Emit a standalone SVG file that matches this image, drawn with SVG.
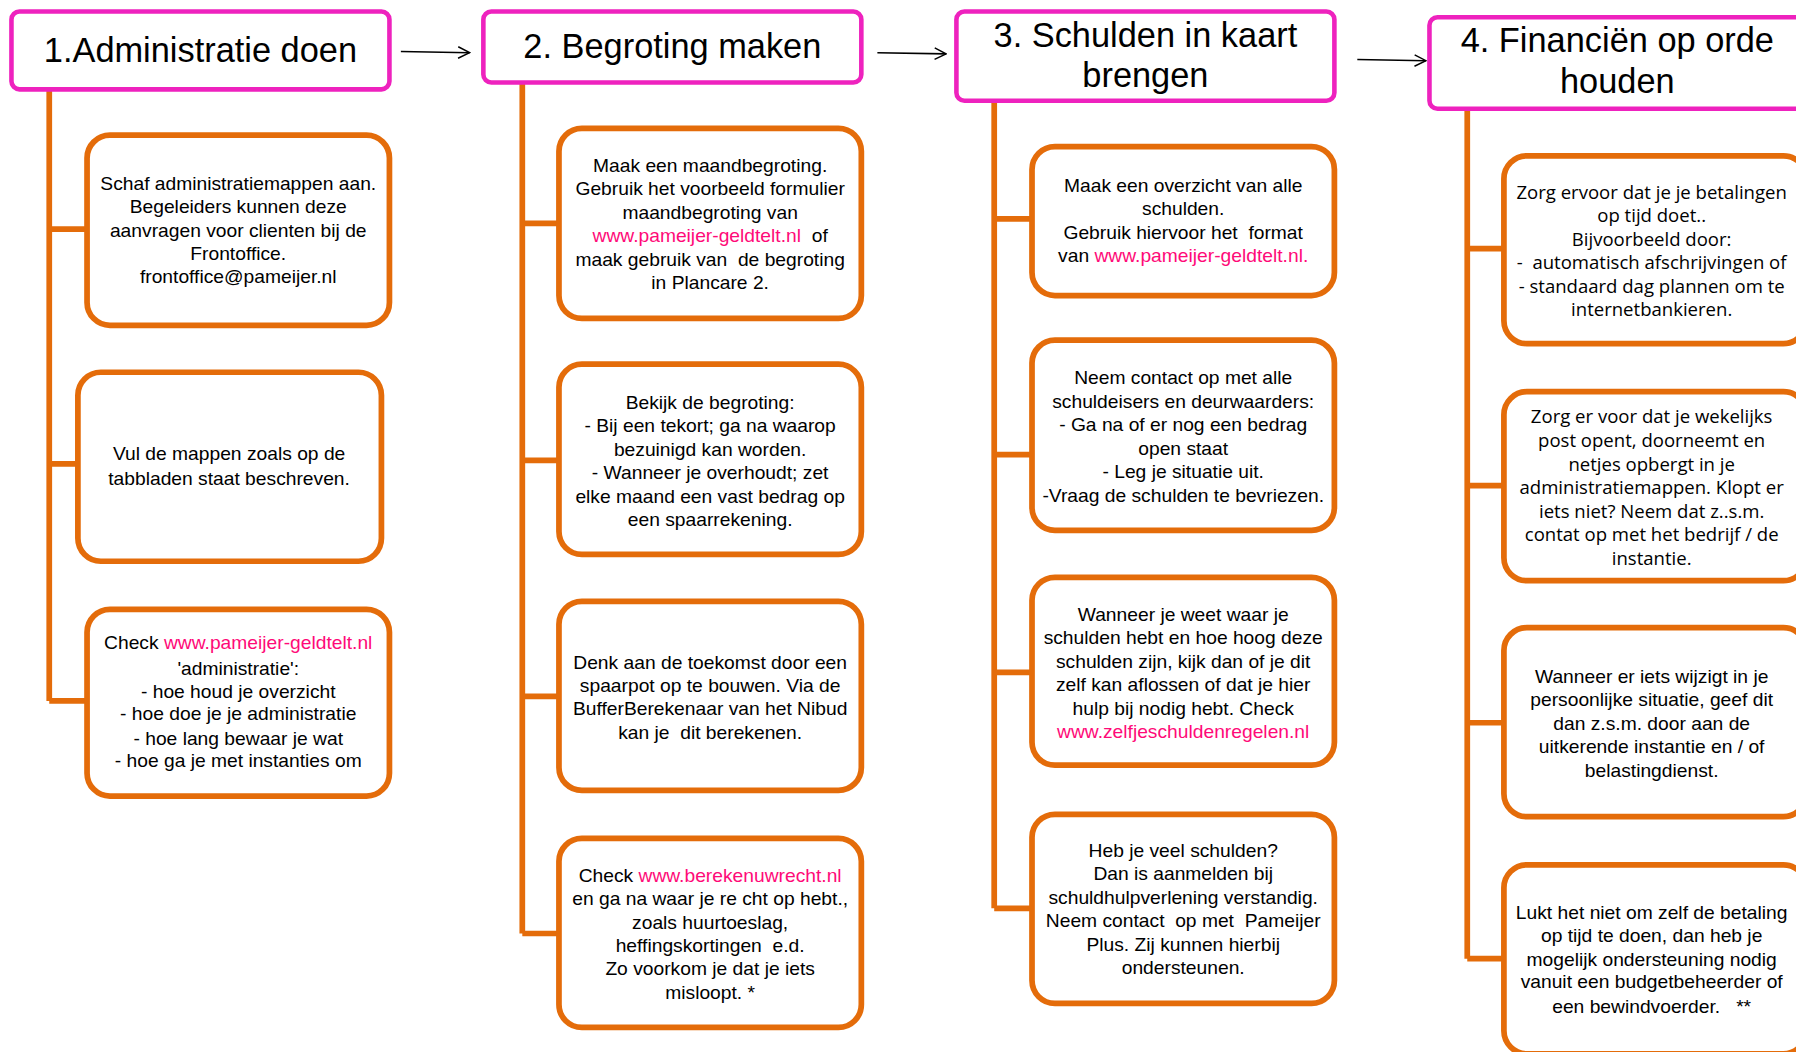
<svg xmlns="http://www.w3.org/2000/svg" width="1796" height="1052" viewBox="0 0 1796 1052">
<style>
.hdr{fill:#fff;stroke:#EE22BE;stroke-width:4}
.box{fill:#fff;stroke:#E46C0A;stroke-width:5}
.conn{stroke:#E46C0A;stroke-width:5;fill:none}
.arr{stroke:#000;stroke-width:1.4;fill:none;marker-end:url(#ah)}
text{white-space:pre}
.ht{font-family:"Liberation Sans",Arial,sans-serif;font-size:30px;fill:#000;text-anchor:middle}
.t{font-family:"Liberation Sans",Arial,sans-serif;font-size:16.8px;fill:#000;text-anchor:middle}
.t4{font-family:"Open Sans","Liberation Sans",Arial,sans-serif;font-size:16.2px;fill:#000;text-anchor:middle}
.lk{fill:#FF0A78}
</style>
<defs>
<marker id="ah" viewBox="0 0 12 12" refX="11" refY="6" markerWidth="12" markerHeight="12" markerUnits="userSpaceOnUse" orient="auto">
<path d="M1,1 L11,6 L1,11" fill="none" stroke="#000" stroke-width="1.3"/>
</marker>
</defs>
<rect width="1796" height="1052" fill="#fff"/>
<g transform="scale(1.1454)">
<g id="connectors">
<path class="conn" d="M43,78 V612 M43,200 H76 M43,405 H68 M43,612 H76"/>
<path class="conn" d="M456,72 V815 M456,195 H488 M456,402 H488 M456,608 H488 M456,815 H488"/>
<path class="conn" d="M868,88 V793 M868,191 H901 M868,397 H901 M868,587 H901 M868,793 H901"/>
<path class="conn" d="M1281,95 V837 M1281,217 H1313 M1281,424 H1313 M1281,631 H1313 M1281,837 H1313"/>
<line class="arr" x1="350" y1="45" x2="410" y2="46"/>
<line class="arr" x1="766" y1="46" x2="826" y2="47"/>
<line class="arr" x1="1185" y1="52" x2="1245" y2="53"/>
</g>

<g id="h1"><rect class="hdr" x="10" y="10" width="330" height="68" rx="7"/>
<text class="ht" x="175" y="54">1.Administratie doen</text></g>
<g id="h2"><rect class="hdr" x="422" y="10" width="330" height="62" rx="7"/>
<text class="ht" x="587" y="51">2. Begroting maken</text></g>
<g id="h3"><rect class="hdr" x="835" y="10" width="330" height="78" rx="7"/>
<text class="ht" x="1000" y="41">3. Schulden in kaart</text>
<text class="ht" x="1000" y="76">brengen</text></g>
<g id="h4"><rect class="hdr" x="1248" y="15" width="330" height="80" rx="7"/>
<text class="ht" x="1412" y="45">4. Financiën op orde</text>
<text class="ht" x="1412" y="81">houden</text></g>

<g id="b1a"><rect class="box" x="76" y="118" width="264" height="166" rx="20"/>
<text class="t" x="208" y="166">Schaf administratiemappen aan.</text>
<text class="t" x="208" y="186">Begeleiders kunnen deze</text>
<text class="t" x="208" y="207">aanvragen voor clienten bij de</text>
<text class="t" x="208" y="227">Frontoffice.</text>
<text class="t" x="208" y="247">frontoffice@pameijer.nl</text></g>
<g id="b1b"><rect class="box" x="68" y="325" width="265" height="165" rx="20"/>
<text class="t" x="200" y="402">Vul de mappen zoals op de</text>
<text class="t" x="200" y="423">tabbladen staat beschreven.</text></g>
<g id="b1c"><rect class="box" x="76" y="532" width="264" height="163" rx="20"/>
<text class="t" x="208" y="567">Check <tspan class="lk">www.pameijer-geldtelt.nl</tspan></text>
<text class="t" x="208" y="589">'administratie':</text>
<text class="t" x="208" y="609">- hoe houd je overzicht</text>
<text class="t" x="208" y="629">- hoe doe je je administratie</text>
<text class="t" x="208" y="650">- hoe lang bewaar je wat</text>
<text class="t" x="208" y="670">- hoe ga je met instanties om</text></g>

<g id="b2a"><rect class="box" x="488" y="112" width="264" height="166" rx="20"/>
<text class="t" x="620" y="150">Maak een maandbegroting.</text>
<text class="t" x="620" y="170">Gebruik het voorbeeld formulier</text>
<text class="t" x="620" y="191">maandbegroting van</text>
<text class="t" x="620" y="211"><tspan class="lk">www.pameijer-geldtelt.nl</tspan>  of</text>
<text class="t" x="620" y="232">maak gebruik van  de begroting</text>
<text class="t" x="620" y="252">in Plancare 2.</text></g>
<g id="b2b"><rect class="box" x="488" y="318" width="264" height="166" rx="20"/>
<text class="t" x="620" y="357">Bekijk de begroting:</text>
<text class="t" x="620" y="377">- Bij een tekort; ga na waarop</text>
<text class="t" x="620" y="398">bezuinigd kan worden.</text>
<text class="t" x="620" y="418">- Wanneer je overhoudt; zet</text>
<text class="t" x="620" y="439">elke maand een vast bedrag op</text>
<text class="t" x="620" y="459">een spaarrekening.</text></g>
<g id="b2c"><rect class="box" x="488" y="525" width="264" height="165" rx="20"/>
<text class="t" x="620" y="584">Denk aan de toekomst door een</text>
<text class="t" x="620" y="604">spaarpot op te bouwen. Via de</text>
<text class="t" x="620" y="624">BufferBerekenaar van het Nibud</text>
<text class="t" x="620" y="645">kan je  dit berekenen.</text></g>
<g id="b2d"><rect class="box" x="488" y="732" width="264" height="165" rx="20"/>
<text class="t" x="620" y="770">Check <tspan class="lk">www.berekenuwrecht.nl</tspan></text>
<text class="t" x="620" y="790">en ga na waar je re cht op hebt.,</text>
<text class="t" x="620" y="811">zoals huurtoeslag,</text>
<text class="t" x="620" y="831">heffingskortingen  e.d.</text>
<text class="t" x="620" y="851">Zo voorkom je dat je iets</text>
<text class="t" x="620" y="872">misloopt. *</text></g>

<g id="b3a"><rect class="box" x="901" y="128" width="264" height="130" rx="20"/>
<text class="t" x="1033" y="168">Maak een overzicht van alle</text>
<text class="t" x="1033" y="188">schulden.</text>
<text class="t" x="1033" y="209">Gebruik hiervoor het  format</text>
<text class="t" x="1033" y="229">van <tspan class="lk">www.pameijer-geldtelt.nl.</tspan></text></g>
<g id="b3b"><rect class="box" x="901" y="297" width="264" height="166" rx="20"/>
<text class="t" x="1033" y="335">Neem contact op met alle</text>
<text class="t" x="1033" y="356">schuldeisers en deurwaarders:</text>
<text class="t" x="1033" y="376">- Ga na of er nog een bedrag</text>
<text class="t" x="1033" y="397">open staat</text>
<text class="t" x="1033" y="417">- Leg je situatie uit.</text>
<text class="t" x="1033" y="438">-Vraag de schulden te bevriezen.</text></g>
<g id="b3c"><rect class="box" x="901" y="504" width="264" height="164" rx="20"/>
<text class="t" x="1033" y="542">Wanneer je weet waar je</text>
<text class="t" x="1033" y="562">schulden hebt en hoe hoog deze</text>
<text class="t" x="1033" y="583">schulden zijn, kijk dan of je dit</text>
<text class="t" x="1033" y="603">zelf kan aflossen of dat je hier</text>
<text class="t" x="1033" y="624">hulp bij nodig hebt. Check</text>
<text class="t lk" x="1033" y="644">www.zelfjeschuldenregelen.nl</text></g>
<g id="b3d"><rect class="box" x="901" y="711" width="264" height="165" rx="20"/>
<text class="t" x="1033" y="748">Heb je veel schulden?</text>
<text class="t" x="1033" y="768">Dan is aanmelden bij</text>
<text class="t" x="1033" y="789">schuldhulpverlening verstandig.</text>
<text class="t" x="1033" y="809">Neem contact  op met  Pameijer</text>
<text class="t" x="1033" y="830">Plus. Zij kunnen hierbij</text>
<text class="t" x="1033" y="850">ondersteunen.</text></g>

<g id="b4a"><rect class="box" x="1313" y="136" width="264" height="164" rx="20"/>
<text class="t4" x="1442" y="174">Zorg ervoor dat je je betalingen</text>
<text class="t4" x="1442" y="194">op tijd doet..</text>
<text class="t4" x="1442" y="215">Bijvoorbeeld door:</text>
<text class="t4" x="1442" y="235">-  automatisch afschrijvingen of</text>
<text class="t4" x="1442" y="256">- standaard dag plannen om te</text>
<text class="t4" x="1442" y="276">internetbankieren.</text></g>
<g id="b4b"><rect class="box" x="1313" y="342" width="264" height="165" rx="20"/>
<text class="t4" x="1442" y="369">Zorg er voor dat je wekelijks</text>
<text class="t4" x="1442" y="390">post opent, doorneemt en</text>
<text class="t4" x="1442" y="411">netjes opbergt in je</text>
<text class="t4" x="1442" y="431">administratiemappen. Klopt er</text>
<text class="t4" x="1442" y="452">iets niet? Neem dat z..s.m.</text>
<text class="t4" x="1442" y="472">contat op met het bedrijf / de</text>
<text class="t4" x="1442" y="493">instantie.</text></g>
<g id="b4c"><rect class="box" x="1313" y="548" width="264" height="165" rx="20"/>
<text class="t" x="1442" y="596">Wanneer er iets wijzigt in je</text>
<text class="t" x="1442" y="616">persoonlijke situatie, geef dit</text>
<text class="t" x="1442" y="637">dan z.s.m. door aan de</text>
<text class="t" x="1442" y="657">uitkerende instantie en / of</text>
<text class="t" x="1442" y="678">belastingdienst.</text></g>
<g id="b4d"><rect class="box" x="1313" y="755" width="264" height="165" rx="20"/>
<text class="t" x="1442" y="802">Lukt het niet om zelf de betaling</text>
<text class="t" x="1442" y="822">op tijd te doen, dan heb je</text>
<text class="t" x="1442" y="843">mogelijk ondersteuning nodig</text>
<text class="t" x="1442" y="863">vanuit een budgetbeheerder of</text>
<text class="t" x="1442" y="884">een bewindvoerder.   **</text></g>
</g>
</svg>
